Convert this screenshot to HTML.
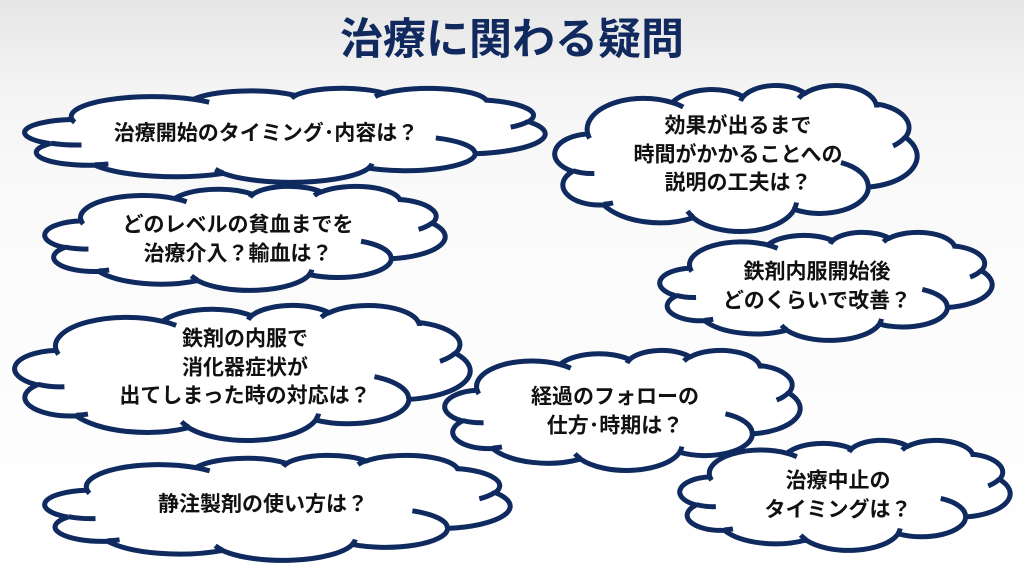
<!DOCTYPE html>
<html><head><meta charset="utf-8">
<style>
html,body{margin:0;padding:0}
body{width:1024px;height:576px;position:relative;overflow:hidden;
background:linear-gradient(#e6e6e6 0px,#f4f4f4 90px,#fafafa 200px,#ffffff 576px);
font-family:"Liberation Sans","Noto Sans CJK JP",sans-serif;}
h1{position:absolute;left:0;width:1024px;top:14px;margin:0;text-align:center;font-size:43px;line-height:52px;font-weight:bold;color:#10295e;letter-spacing:0px}
svg.c{position:absolute;overflow:visible}
.t{position:absolute;text-align:center;font-weight:bold;font-size:21px;line-height:28.5px;color:#111;white-space:nowrap;transform:translate(-50%,-50%)}
</style></head><body>
<h1>治療に関わる疑問</h1>
<div id="clouds"></div>
<div class="t" style="left:266px;top:134px">治療開始のタイミング･内容は？</div>
<div class="t" style="left:238px;top:240px">どのレベルの貧血までを<br>治療介入？輸血は？</div>
<div class="t" style="left:245px;top:368px">鉄剤の内服で<br>消化器症状が<br>出てしまった時の対応は？</div>
<div class="t" style="left:263px;top:505px">静注製剤の使い方は？</div>
<div class="t" style="left:738px;top:155px">効果が出るまで<br>時間がかかることへの<br>説明の工夫は？</div>
<div class="t" style="left:817px;top:287px">鉄剤内服開始後<br>どのくらいで改善？</div>
<div class="t" style="left:615px;top:412px">経過のフォローの<br>仕方･時期は？</div>
<div class="t" style="left:838px;top:496px">治療中止の<br>タイミングは？</div>
<script>
function pt(wR,hR,a){var r=wR*hR/Math.sqrt(Math.pow(hR*Math.cos(a),2)+Math.pow(wR*Math.sin(a),2));return [r*Math.cos(a),r*Math.sin(a)];}
function arc(cur,wR,hR,st,sw){var s=st/60000*Math.PI/180,w=sw/60000*Math.PI/180;var p0=pt(wR,hR,s);var cx=cur[0]-p0[0],cy=cur[1]-p0[1];var p1=pt(wR,hR,s+w);var e=[cx+p1[0],cy+p1[1]];var la=Math.abs(sw)>180*60000?1:0,sf=sw>0?1:0;return {d:" A"+wR+" "+hR+" 0 "+la+" "+sf+" "+e[0].toFixed(1)+" "+e[1].toFixed(1),e:e};}
var main=[[6753,9190,-11429249,7426832],[5333,7267,-8646143,5396714],[4365,5945,-8748475,5983381],[4857,6595,-7859164,7034504],[5333,7273,-4722533,6541615],[6775,9220,-2776035,7816140],[5785,7867,37501,6842000],[6752,9215,1347096,6910353],[7720,10543,3974558,4542661],[4360,5918,-16496525,8804134],[4345,5945,-14809710,9151816]];
var d="M3900 14370",cur=[3900,14370];
main.forEach(function(m){var r=arc(cur,m[0],m[1],m[2],m[3]);d+=r.d;cur=r.e;});d+=" Z";
var inner=[[4693,26177,4345,5945,5204520,1585770],[6928,34899,4360,5918,4416628,686848],[16478,39090,6752,9215,8257449,844866],[28827,34751,6752,9215,387196,959901],[34129,22954,5785,7867,-4217541,4255042],[41798,15354,5333,7273,1819082,1665090],[38324,5426,4857,6595,-824660,891534],[29078,3952,4857,6595,-8950887,1091722],[22141,4720,4365,5945,-9809656,1061181],[14000,5192,6753,9190,-4002417,739161],[4127,15789,6753,9190,9459261,711490]];
var d2="";inner.forEach(function(m){d2+=" M"+m[0]+" "+m[1]+arc([m[0],m[1]],m[2],m[3],m[4],m[5]).d;});
var boxes=[[25,88,520,94],[45,186,400,104],[15,305,455,135],[45,455,465,105],[555,85,362,146],[660,232,332,108],[445,350,355,120],[680,440,330,110]];
var h="";boxes.forEach(function(b){h+='<svg class="c" style="left:'+b[0]+'px;top:'+b[1]+'px" width="'+b[2]+'" height="'+b[3]+'" viewBox="0 0 43200 43200" preserveAspectRatio="none"><path d="'+d+'" fill="#fff" stroke="#0f2a5f" stroke-width="5" vector-effect="non-scaling-stroke"/><path d="'+d2+'" fill="none" stroke="#0f2a5f" stroke-width="5" vector-effect="non-scaling-stroke"/></svg>';});
document.getElementById("clouds").innerHTML=h;
</script>
</body></html>
